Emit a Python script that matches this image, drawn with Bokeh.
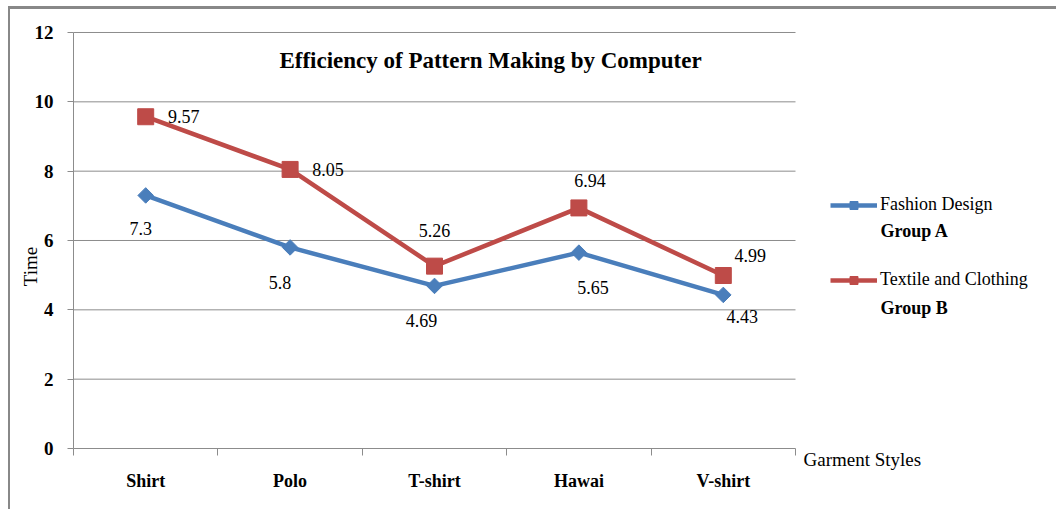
from math import pi
from bokeh.plotting import figure
from bokeh.models import Range1d, FixedTicker, Label, Legend, LegendItem, ColumnDataSource
from bokeh.core.properties import value
from bokeh.embed import file_html
from bokeh.resources import INLINE

# ---- data ----
categories = ["Shirt", "Polo", "T-shirt", "Hawai", "V-shirt"]
group_a = [7.3, 5.8, 4.69, 5.65, 4.43]   # Fashion Design Group A
group_b = [9.57, 8.05, 5.26, 6.94, 4.99]  # Textile and Clothing Group B
y_ticks = [0, 2, 4, 6, 8, 10, 12]

# ---- styling (label offsets in pixels, positive = down) ----
a_dx = [-5, -10, -13, 14, 19]
a_dy = [33, 35, 35, 35, 22]
b_dx = [38, 38, 0, 11, 27]
b_dy = [0, 0, -36, -27, -20]

BLUE = "#4A7EBB"
RED = "#BE4B48"
GRAY = "#8c8c8c"
SERIF = "Liberation Serif"

# ---- layout geometry (pixels in the figure) ----
W, H = 1048, 503
AX_LEFT, AX_BOTTOM = 63, 439     # where x=-0.5 / y=0 sit
PX_X = 144.4                     # pixels per category
PX_Y = 34.667                    # pixels per unit of time

n = len(categories)
xs = list(range(n))
x_lo, x_hi = -0.5, n - 0.5
x_range = Range1d(x_lo - AX_LEFT / PX_X, x_lo + (W - AX_LEFT) / PX_X)
y_range = Range1d(-(H - AX_BOTTOM) / PX_Y, (AX_BOTTOM) / PX_Y)

src = ColumnDataSource(dict(
    x=xs, a=group_a, b=group_b,
    a_txt=[str(v) for v in group_a], b_txt=[str(v) for v in group_b],
    a_dx=a_dx, a_dy=a_dy, b_dx=b_dx, b_dy=b_dy,
))

p = figure(width=W, height=H, output_backend="svg", toolbar_location=None,
           x_range=x_range, y_range=y_range,
           min_border_left=0, min_border_right=0, min_border_top=0, min_border_bottom=0)
p.styles = {"margin-left": "8px", "margin-top": "6px",
            "border-left": "2px solid #888888", "border-top": "3px solid #888888"}
p.outline_line_color = None
p.background_fill_color = "white"
p.border_fill_color = "white"
p.xgrid.visible = False
p.ygrid.visible = False

# x axis (drawn at y=0)
p.xaxis.fixed_location = 0
p.xaxis.bounds = (x_lo, x_hi)
p.xaxis.ticker = FixedTicker(ticks=xs, minor_ticks=[i - 0.5 for i in range(n + 1)])
p.xaxis.major_label_overrides = {i: c for i, c in enumerate(categories)}
p.xaxis.major_tick_out = 0
p.xaxis.major_tick_in = 0
p.xaxis.minor_tick_out = 7
p.xaxis.minor_tick_in = 0
p.xaxis.minor_tick_line_color = GRAY
p.xaxis.axis_line_color = GRAY
p.xaxis.major_label_standoff = 15
p.xaxis.major_label_text_font = SERIF
p.xaxis.major_label_text_font_size = "18px"
p.xaxis.major_label_text_font_style = "bold"
p.xaxis.major_label_text_color = "black"

# y axis (drawn at the left edge of the categories)
p.yaxis.fixed_location = x_lo
p.yaxis.bounds = (y_ticks[0], y_ticks[-1])
p.yaxis.ticker = FixedTicker(ticks=y_ticks)
p.yaxis.major_tick_out = 6
p.yaxis.major_tick_in = 0
p.yaxis.minor_tick_line_color = None
p.yaxis.major_tick_line_color = GRAY
p.yaxis.axis_line_color = GRAY
p.yaxis.major_label_standoff = 14
p.yaxis.major_label_text_font = SERIF
p.yaxis.major_label_text_font_size = "19px"
p.yaxis.major_label_text_font_style = "bold"
p.yaxis.major_label_text_color = "black"

# horizontal grid lines, limited to the category span
g = y_ticks[1:]
p.segment(x0=[x_lo] * len(g), y0=g, x1=[x_hi] * len(g), y1=g,
          line_color=GRAY, line_width=1, level="underlay")

# series
la = p.line("x", "a", source=src, line_color=BLUE, line_width=4.5)
sa = p.scatter("x", "a", source=src, marker="square", angle=pi / 4, size=11,
               fill_color=BLUE, line_color=BLUE)
lb = p.line("x", "b", source=src, line_color=RED, line_width=4.5)
sb = p.scatter("x", "b", source=src, marker="square", size=16, fill_color=RED, line_color=RED)

# data labels
for col, yname, dx, dy in (("a_txt", "a", "a_dx", "a_dy"), ("b_txt", "b", "b_dx", "b_dy")):
    p.text("x", yname, text=col, source=src, x_offset=dx, y_offset=dy,
           text_align="center", text_baseline="middle",
           text_font=value(SERIF), text_font_size="18px", text_color="black")

# legend
legend = Legend(items=[LegendItem(label="Fashion Design", renderers=[la, sa]),
                       LegendItem(label="Textile and Clothing", renderers=[lb, sb])],
                location=(820, 222), padding=0, margin=0, spacing=54,
                glyph_width=47, glyph_height=20, label_height=20, label_standoff=3,
                border_line_color=None, background_fill_alpha=0,
                label_text_font=SERIF, label_text_font_size="18px", label_text_color="black")
p.add_layout(legend)

def lab(text, x, y, **kw):
    opts = dict(x=x, y=y, x_units="screen", y_units="screen", text=text,
                text_font=SERIF, text_color="black", text_font_size="18px")
    opts.update(kw)
    p.add_layout(Label(**opts))

lab("Group A", 870, 282, text_font_style="bold", text_baseline="middle")
lab("Group B", 870, 205, text_font_style="bold", text_baseline="middle")
lab("Efficiency of Pattern Making by Computer", 480, 452, text_font_style="bold",
    text_font_size="23px", text_align="center", text_baseline="middle")
lab("Time", 20, 246, angle=pi / 2, text_align="center", text_baseline="middle", text_font_size="19px")
lab("Garment Styles", 793, 53, text_baseline="middle", text_font_size="19px")

open("out.html", "w").write(file_html(p, INLINE))
